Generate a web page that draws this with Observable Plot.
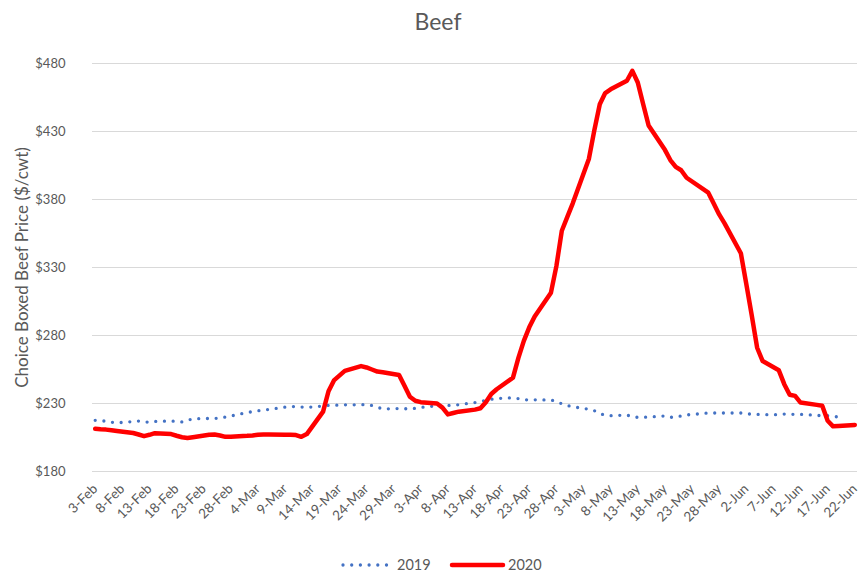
<!DOCTYPE html>
<html><head><meta charset="utf-8">
<script src="https://cdn.jsdelivr.net/npm/d3@7"></script>
<script src="https://cdn.jsdelivr.net/npm/@observablehq/plot@0.6"></script>
<style>
body{margin:0;background:#fff;font-family:Lato,"Open Sans",sans-serif;}
#wrap{position:relative;width:861px;height:575px;overflow:hidden;background:#fff}
#title{position:absolute;top:6px;left:438px;transform:translateX(-50%);font-size:23px;color:#595959;line-height:30px;white-space:nowrap}
#chart{position:absolute;top:38px;left:0}
#legend{position:absolute;top:553px;left:0;width:861px;height:24px}
</style></head><body>
<div id="wrap"><div id="title">Beef</div><div id="chart"></div><div id="legend"></div></div>
<script>
const dates2020 = [
"2020-02-03","2020-02-04","2020-02-05","2020-02-06","2020-02-07","2020-02-10","2020-02-11","2020-02-12","2020-02-13","2020-02-14",
"2020-02-17","2020-02-18","2020-02-19","2020-02-20","2020-02-21","2020-02-24","2020-02-25","2020-02-26","2020-02-27","2020-02-28",
"2020-03-02","2020-03-03","2020-03-04","2020-03-05","2020-03-06","2020-03-09","2020-03-10","2020-03-11","2020-03-12","2020-03-13",
"2020-03-16","2020-03-17","2020-03-18","2020-03-19","2020-03-20","2020-03-23","2020-03-24","2020-03-25","2020-03-26","2020-03-27",
"2020-03-30","2020-03-31","2020-04-01","2020-04-02","2020-04-03","2020-04-06","2020-04-07","2020-04-08","2020-04-09","2020-04-10",
"2020-04-13","2020-04-14","2020-04-15","2020-04-16","2020-04-17","2020-04-20","2020-04-21","2020-04-22","2020-04-23","2020-04-24",
"2020-04-27","2020-04-28","2020-04-29","2020-04-30","2020-05-01","2020-05-04","2020-05-05","2020-05-06","2020-05-07","2020-05-08",
"2020-05-11","2020-05-12","2020-05-13","2020-05-14","2020-05-15","2020-05-18","2020-05-19","2020-05-20","2020-05-21","2020-05-22",
"2020-05-26","2020-05-27","2020-05-28","2020-05-29","2020-06-01","2020-06-02","2020-06-03","2020-06-04","2020-06-05",
"2020-06-08","2020-06-09","2020-06-10","2020-06-11","2020-06-12","2020-06-15","2020-06-16","2020-06-17","2020-06-18","2020-06-19",
"2020-06-22"];
const values2020 = [
211.4,211,210.8,210.3,209.8,208.3,207.2,206,207,208.2,
207.5,206.3,205.2,204.6,205.2,207,207.2,206.5,205.5,205.6,
206.2,206.5,207,207.2,207.2,207.1,207,206.8,205.5,207.5,
224,239,247,250.5,254,257.5,256.5,255,253.5,253,
251,243,235,232,231,230,227,222,223,224,
225.5,226.5,231,237,240.5,249,263.5,276,286,294,
311.5,331,357,367,377,410,431,450,458.3,461,
467.3,474.6,466,450,434.4,416.5,409,404,401.5,396,
385,377,369,362.4,340.5,318,295,271,261.3,
254.4,244.2,236.4,235.6,230.7,229,228.3,217.3,213.2,213.5,
214.2];
const dates2019 = [
"2020-02-03","2020-02-04","2020-02-05","2020-02-06","2020-02-07","2020-02-10","2020-02-11","2020-02-12","2020-02-13","2020-02-14",
"2020-02-17","2020-02-18","2020-02-19","2020-02-20","2020-02-21","2020-02-24","2020-02-25","2020-02-26","2020-02-27","2020-02-28",
"2020-03-02","2020-03-03","2020-03-04","2020-03-05","2020-03-06","2020-03-09","2020-03-10","2020-03-11","2020-03-12","2020-03-13",
"2020-03-16","2020-03-17","2020-03-18","2020-03-19","2020-03-20","2020-03-23","2020-03-24","2020-03-25","2020-03-26","2020-03-27",
"2020-03-30","2020-03-31","2020-04-01","2020-04-02","2020-04-03","2020-04-06","2020-04-07","2020-04-08","2020-04-09","2020-04-10",
"2020-04-13","2020-04-14","2020-04-15","2020-04-16","2020-04-17","2020-04-20","2020-04-21","2020-04-22","2020-04-23","2020-04-24",
"2020-04-27","2020-04-28","2020-04-29","2020-04-30","2020-05-01","2020-05-04","2020-05-05","2020-05-06","2020-05-07","2020-05-08",
"2020-05-11","2020-05-12","2020-05-13","2020-05-14","2020-05-15","2020-05-18","2020-05-19","2020-05-20","2020-05-21","2020-05-22",
"2020-05-26","2020-05-27","2020-05-28","2020-05-29","2020-06-01","2020-06-02","2020-06-03","2020-06-04","2020-06-05",
"2020-06-08","2020-06-09","2020-06-10","2020-06-11","2020-06-12","2020-06-15","2020-06-16","2020-06-17","2020-06-18","2020-06-19",
"2020-06-20"];
const values2019 = [
217.6,217.3,217,216.2,215.8,216.7,217.1,216.4,216.3,216.8,
217.1,216.9,216.4,217.7,218.7,219,219,219.3,220,220.8,
223.4,224,224.6,225.2,225.6,227.3,227.7,227.8,227.4,227.1,
228.2,228.6,228.8,228.8,229,229.1,229.3,228.5,227.3,226,
226.3,226.2,225.9,226.5,227.1,228.3,228.3,228.5,228.8,229.1,
230.7,231.5,232.3,233.1,233.7,234.2,233.6,232.7,232.7,232.7,
232.6,231.5,229.8,228.5,227.6,225.8,224.7,222.5,221.5,221,
221.5,220.3,219.8,219.8,220.1,220.8,219.8,220.2,220.8,221.6,
223,223,223,223,223,222.5,222.1,222,221.8,
221.8,222.2,222.1,222,222,221.3,221,221,220.6,220,
219.8];
const xTickLabels = ["3-Feb","8-Feb","13-Feb","18-Feb","23-Feb","28-Feb","4-Mar","9-Mar","14-Mar","19-Mar","24-Mar","29-Mar",
"3-Apr","8-Apr","13-Apr","18-Apr","23-Apr","28-Apr","3-May","8-May","13-May","18-May","23-May","28-May","2-Jun","7-Jun","12-Jun","17-Jun","22-Jun"];
const yTicks = [180,230,280,330,380,430,480];
const seriesNames = ["2019","2020"];
const seriesColors = ["#4472C4","#FF0000"];
const titleText = "Beef";
const yLabel = "Choice Boxed Beef Price ($/cwt)";

const parseISO = d3.utcParse("%Y-%m-%d");
const parseTick = d3.utcParse("%d-%b-%Y");
const rows2019 = dates2019.map((d,i)=>({date:parseISO(d), value:values2019[i]}));
const rows2020 = dates2020.map((d,i)=>({date:parseISO(d), value:values2020[i]}));
const tickDates = xTickLabels.map(s=>parseTick(s+"-2020"));
const tickMap = new Map(tickDates.map((d,i)=>[+d, xTickLabels[i]]));
const halfDay = 12*3600*1000;
const x0 = new Date(+tickDates[0]-halfDay), x1 = new Date(+tickDates[tickDates.length-1]+halfDay);

document.getElementById("title").textContent = titleText;

const chart = Plot.plot({
  width: 861, height: 510,
  marginLeft: 92, marginRight: 4, marginTop: 25, marginBottom: 77,
  style: {fontFamily: "Lato, sans-serif", fontSize: "13px", color: "#595959", background: "white", overflow: "visible"},
  x: {type: "utc", domain: [x0, x1], label: null},
  y: {domain: [180, 480], ticks: yTicks, tickFormat: d => "$" + d, tickSize: 0, tickPadding: 27, label: null},
  marks: [
    Plot.gridY(yTicks, {stroke: "#d9d9d9", strokeOpacity: 1, strokeWidth: 1.2}),
    Plot.axisX({ticks: tickDates, tickFormat: d => tickMap.get(+d), tickRotate: -45, tickSize: 0, tickPadding: 15, fontSize: 13.5, label: null}),
    Plot.line(rows2019, {x: "date", y: "value", stroke: seriesColors[0], strokeWidth: 3.3, strokeDasharray: "0 8.7", strokeLinecap: "round", strokeLinejoin: "round"}),
    Plot.line(rows2020, {x: "date", y: "value", stroke: seriesColors[1], strokeWidth: 4.5, strokeLinejoin: "round", strokeLinecap: "round"}),
    Plot.text([yLabel], {text: d => d, frameAnchor: "left", textAnchor: "middle", dx: -70, rotate: -90, fontSize: 17, fill: "#595959"})
  ]
});
document.getElementById("chart").appendChild(chart);

// legend
const ns = "http://www.w3.org/2000/svg";
const lg = document.createElementNS(ns, "svg");
lg.setAttribute("width", 861); lg.setAttribute("height", 24);
const items = [
  {x1: 343, x2: 389, tx: 397, dash: "0 8.7", w: 3.3},
  {x1: 452, x2: 503, tx: 508, dash: null, w: 4.5}
];
items.forEach((it, i) => {
  const ln = document.createElementNS(ns, "line");
  ln.setAttribute("x1", it.x1); ln.setAttribute("x2", it.x2);
  ln.setAttribute("y1", 12); ln.setAttribute("y2", 12);
  ln.setAttribute("stroke", seriesColors[i]); ln.setAttribute("stroke-width", it.w);
  ln.setAttribute("stroke-linecap", "round");
  if (it.dash) ln.setAttribute("stroke-dasharray", it.dash);
  lg.appendChild(ln);
  const t = document.createElementNS(ns, "text");
  t.setAttribute("x", it.tx); t.setAttribute("y", 17);
  t.setAttribute("fill", "#595959"); t.setAttribute("font-size", "14.5px");
  t.setAttribute("font-family", "Lato, sans-serif");
  t.textContent = seriesNames[i];
  lg.appendChild(t);
});
document.getElementById("legend").appendChild(lg);
</script>
</body></html>
